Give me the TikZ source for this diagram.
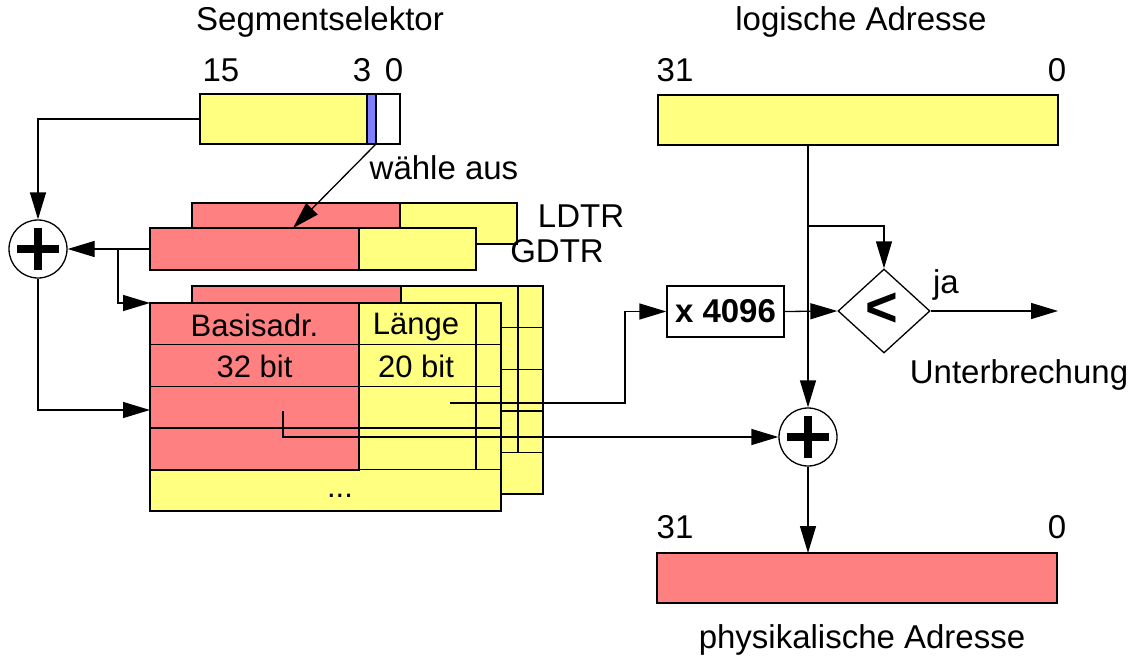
\documentclass[tikz,border=0pt]{standalone}
\usepackage{fontspec}
\setmainfont{Liberation Sans}
\usetikzlibrary{arrows.meta,shapes.geometric,calc}
\definecolor{ylw}{HTML}{FFFF80}
\definecolor{rd}{HTML}{FF8080}
\definecolor{bl}{HTML}{7F7FFF}
\begin{document}
\begin{tikzpicture}[x=1pt,y=-1pt,
  cell/.style={draw, line width=1.4pt, inner sep=0pt, outer sep=0pt, anchor=north west},
  grid/.style={line width=1.4pt},
  lbl/.style={font=\fontsize{33}{36}\selectfont, inner sep=0pt},
  tlbl/.style={font=\fontsize{31}{34}\selectfont, inner sep=0pt},
  conn/.style={line width=1.3pt},
  arr/.style={conn, -{Triangle[length=27pt,width=16pt]}},
  plus/.style={circle, draw, fill=white, line width=1.3pt, minimum size=58pt, inner sep=0pt},
  plusbar/.style={line width=8.5pt}
]
\useasboundingbox (0,0) rectangle (1141,661);

% ---------- segment selector ----------
\node[cell, fill=white, minimum width=200pt, minimum height=50pt] (selw) at (200,94) {};
\node[cell, fill=ylw, minimum width=167pt, minimum height=50pt] (sel) at (200,94) {};
\node[cell, fill=bl, minimum width=9pt, minimum height=50pt] (selb) at (367,94) {};
\node[lbl] (tsel) at (320,22) {Segmentselektor};
\node[lbl] (t15) at (221,70) {15};
\node[lbl] (t3) at (362,70) {3};
\node[lbl] (t0) at (394,70) {0};

% ---------- LDTR / GDTR ----------
\node[cell, fill=ylw, minimum width=325pt, minimum height=41pt] (ldtr) at (192,203) {};
\node[cell, fill=rd, minimum width=208pt, minimum height=41pt] (ldtrr) at (192,203) {};
\node[cell, fill=ylw, minimum width=326pt, minimum height=42pt] (gdtr) at (150,228) {};
\node[cell, fill=rd, minimum width=209pt, minimum height=42pt] (gdtrr) at (150,228) {};
\node[lbl] (tldtr) at (581,216) {LDTR};
\node[lbl] (tgdtr) at (557,251) {GDTR};
\node[lbl] (twahl) at (444,168) {wähle aus};

% ---------- descriptor tables (back) ----------
\begin{scope}[shift={(42,-17)}]
  \node[cell, fill=ylw, minimum width=351pt, minimum height=208pt] (btab) at (150,303) {};
  \node[cell, fill=rd, minimum width=209pt, minimum height=167pt] (btabr) at (150,303) {};
  \draw[grid] (476,303) -- (476,470);
  \foreach \yy in {344.6,386.2,427.8,469.4} \draw[grid] (150,\yy) -- (501,\yy);
\end{scope}

% ---------- descriptor table (front) ----------
\node[cell, fill=ylw, minimum width=351pt, minimum height=208pt] (ftab) at (150,303) {};
\node[cell, fill=rd, minimum width=209pt, minimum height=167pt] (ftabr) at (150,303) {};
\draw[grid] (476,303) -- (476,470);
\foreach \yy in {344.6,386.2,427.8,469.4} \draw[grid] (150,\yy) -- (501,\yy);
\node[tlbl] (tbasis) at (254.5,325) {Basisadr.};
\node[tlbl] (t32) at (254.5,366) {32 bit};
\node[tlbl] (tlen) at (416,327) {Länge};
\node[tlbl] (t20) at (416,366) {20 bit};
\node[tlbl] (tdots) at (340,496) {...};

% ---------- left adder ----------
\node[plus] (plusL) at (38,249) {};
\draw[plusbar] ([xshift=-21pt]plusL.center) -- ([xshift=21pt]plusL.center);
\draw[plusbar] ([yshift=-21pt]plusL.center) -- ([yshift=21pt]plusL.center);

% ---------- right side ----------
\node[cell, fill=ylw, minimum width=400pt, minimum height=50pt] (log) at (658,95) {};
\node[lbl] (tlog) at (861,22) {logische Adresse};
\node[lbl] (t31a) at (675,70) {31};
\node[lbl] (t0a) at (1057,70) {0};

\node[draw, line width=1.3pt, minimum width=117pt, minimum height=51pt, inner sep=0pt,
      font=\fontsize{33}{36}\selectfont\bfseries] (mul) at (725.5,311.5) {x 4096};
\node[diamond, draw, fill=white, line width=1.3pt, minimum width=92pt, minimum height=84pt, inner sep=0pt] (cmp) at (884,311) {};
\node[inner sep=0pt, font=\fontsize{56}{56}\selectfont\bfseries] (lt) at (882,310) {<};
\node[lbl] (tja) at (946,285) {ja};
\node[lbl] (tunt) at (1019,375) {Unterbrechung};

\node[plus] (plusR) at (808,437) {};
\draw[plusbar] ([xshift=-21pt]plusR.center) -- ([xshift=21pt]plusR.center);
\draw[plusbar] ([yshift=-21pt]plusR.center) -- ([yshift=21pt]plusR.center);

\node[cell, fill=rd, minimum width=400pt, minimum height=50pt] (phys) at (657,553) {};
\node[lbl] (t31b) at (675,527) {31};
\node[lbl] (t0b) at (1057,527) {0};
\node[lbl] (tphys) at (862,640) {physikalische Adresse};

% ---------- coordinates ----------
\coordinate (selpt) at (293,228);
\coordinate (gbr) at (118,249);
\coordinate (ftin) at (150,410);
\coordinate (lstart) at (450,403);
\coordinate (lbend) at (625,403);
\coordinate (bstart) at (283,411);
\coordinate (lv) at (808,145);
\coordinate (br) at (808,226);
\coordinate (jaend) at (1058,311);

% ---------- connectors ----------
\draw[arr] (selb.south east) -- (selpt);
\draw[arr] (sel.west) -| (plusL.north);
\draw[arr] (gdtrr.west) -- (plusL.east);
\draw[arr] (gbr) |- (ftab.north west);
\draw[arr] (plusL.south) |- (ftin);
\draw[arr] (lstart) -- (lbend) |- (mul.west);
\draw[arr] (bstart) |- (plusR.west);
\draw[arr] (lv) -- (plusR.north);
\draw[arr] (br) -| (cmp.north);
\draw[arr] (mul.east) -- (cmp.west);
\draw[arr] (cmp.east) -- (jaend);
\draw[arr] (plusR.south) -- (plusR.south |- phys.north);
\end{tikzpicture}
\end{document}
